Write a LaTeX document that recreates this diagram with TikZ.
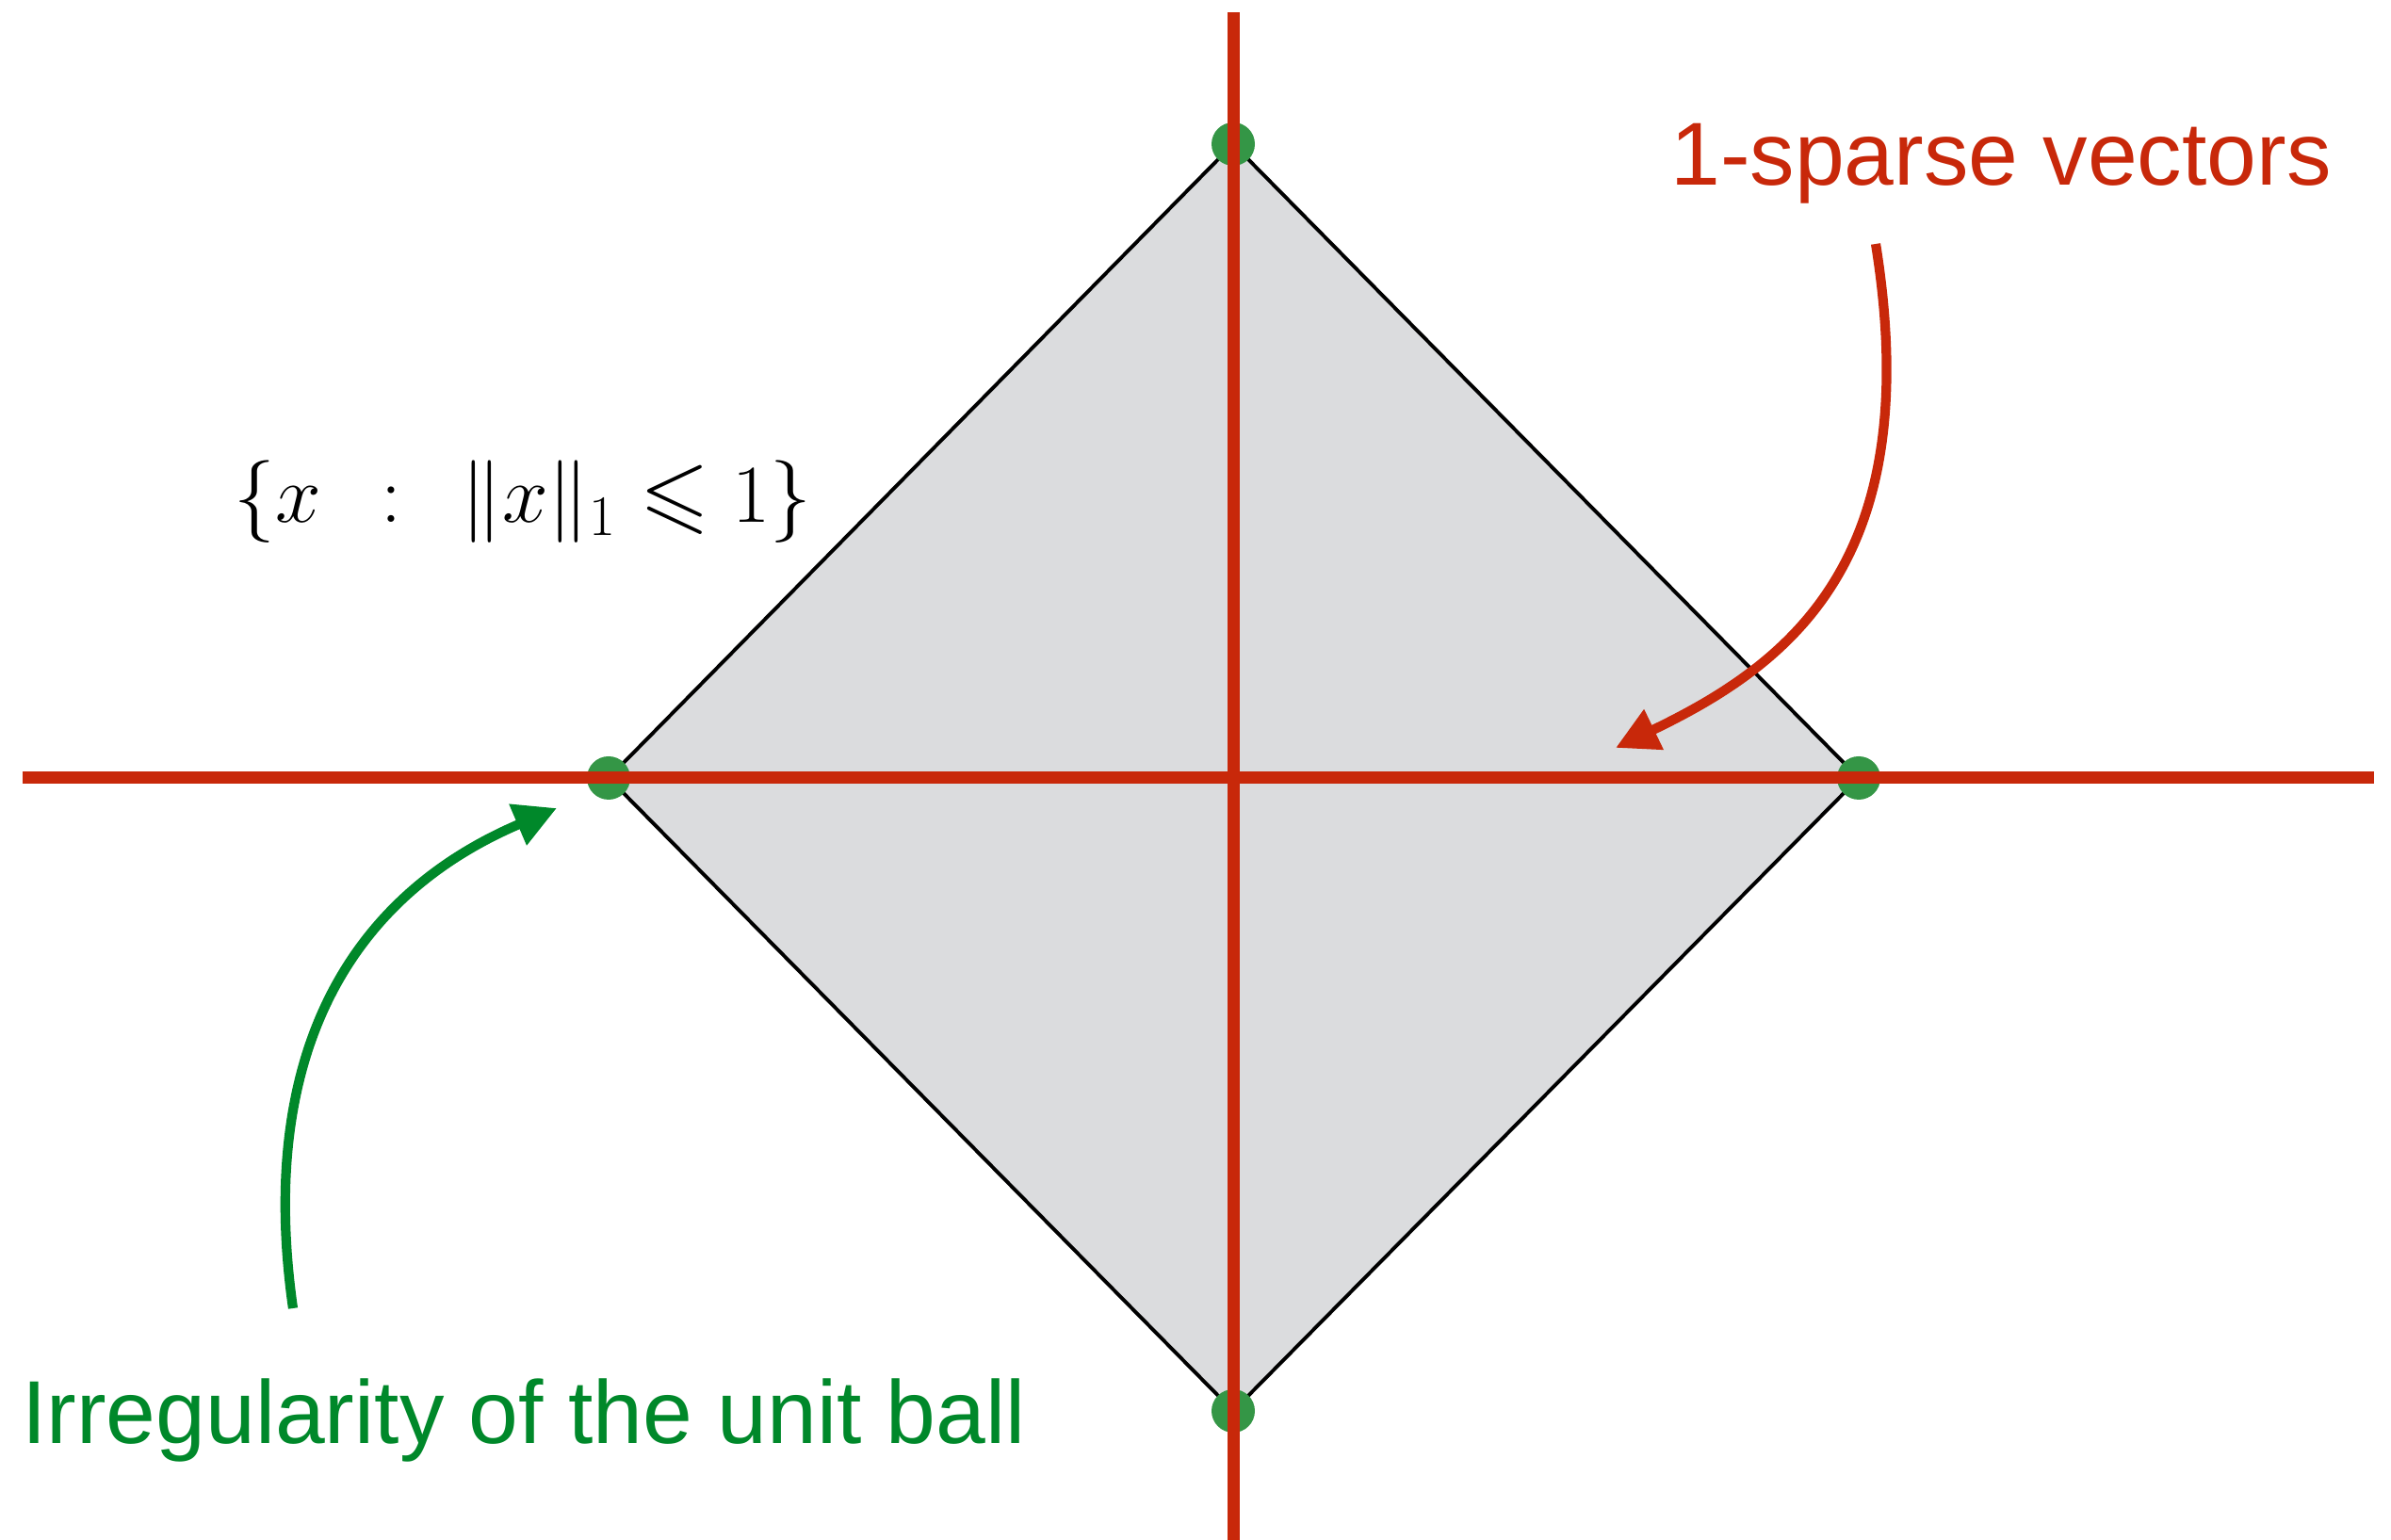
\documentclass[tikz,border=0pt]{standalone}
\usepackage{amssymb}
\usepackage{fontspec}
\setmainfont{Liberation Sans}
\usetikzlibrary{arrows.meta}
\definecolor{axisred}{RGB}{200,40,10}
\definecolor{labelgreen}{RGB}{0,136,42}
\definecolor{dotgreen}{RGB}{52,150,70}
\definecolor{ballgray}{RGB}{219,220,222}
\begin{document}
\begin{tikzpicture}[
    axisline/.style={axisred, line width=3.7pt},
    vertexdot/.style={fill=dotgreen},
    notearrow/.style={line width=2.9pt, -{Triangle[length=0.45cm, width=0.45cm]}},
    notetext/.style={font=\fontsize{27}{32}\selectfont}
  ]
  \useasboundingbox (0,0) rectangle (25.38,16.35);

  % Vertices of the unit ball
  \coordinate (top) at (13.09,14.82);
  \coordinate (bottom) at (13.09,1.37);
  \coordinate (left) at (6.46,8.09);
  \coordinate (right) at (19.73,8.09);

  % Unit ball
  \draw[line width=1.1pt, fill=ballgray] (top) -- (right) -- (bottom) -- (left) -- cycle;

  % 1-sparse points
  \foreach \v in {top,bottom,left,right}
    \fill[vertexdot] (\v) circle (0.23);

  % Axes
  \coordinate (xmin) at (0.24,8.09);
  \coordinate (xmax) at (25.20,8.09);
  \coordinate (ymin) at (13.09,0);
  \coordinate (ymax) at (13.09,16.22);
  \draw[axisline] (xmin) -- (xmax);
  \draw[axisline] (ymin) -- (ymax);

  % Set label
  \node[notetext, anchor=base] (setlabel) at (5.55,10.80) {$\{x \;\,:\;\, \|x\|_1 \leqslant 1\}$};

  % Sparse vectors annotation
  \node[notetext, axisred, anchor=base] (sparselabel) at (21.24,14.38) {1-sparse vectors};
  \coordinate (sparsetail) at (19.91,13.76);
  \coordinate (sparsetip) at (17.15,8.41);
  \draw[notearrow, axisred] (sparsetail) .. controls (20.45,10.4) and (19.0,9.3) .. (sparsetip);

  % Irregularity annotation
  \node[notetext, labelgreen, anchor=base] (irreglabel) at (5.56,1.02) {Irregularity of the unit ball};
  \coordinate (irregtail) at (3.11,2.46);
  \coordinate (irregtip) at (5.91,7.77);
  \draw[notearrow, labelgreen] (irregtail) .. controls (2.72,5.2) and (3.75,6.85) .. (irregtip);
\end{tikzpicture}
\end{document}
